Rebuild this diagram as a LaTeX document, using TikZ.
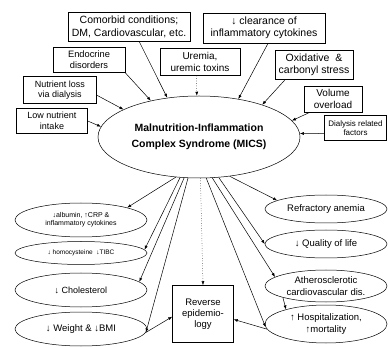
\documentclass[tikz,border=0pt]{standalone}
\usepackage{fontspec}
\setmainfont{Liberation Sans}
\usepackage{tikz}
\usetikzlibrary{arrows.meta,shapes.geometric}
\newcommand{\fsz}[1]{\fontsize{#1}{1.18\dimexpr#1pt\relax}\selectfont}

\begin{document}
\begin{tikzpicture}[x=1pt,y=-1pt,line width=0.5pt,
    causebox/.style={draw,align=center,inner sep=1pt},
    oval/.style={draw,ellipse,align=center,inner sep=0pt},
    arr/.style={-{Latex[length=4pt,width=3pt]}}]
  \useasboundingbox (0,0) rectangle (388,347);
  % causes
  \node[causebox,minimum width=122,minimum height=29,font=\fsz{10.5}] (comorbid) at (129,27) {Comorbid conditions;\\DM, Cardiovascular, etc.};
  \node[causebox,minimum width=122,minimum height=30,font=\fsz{10.5}] (clearance) at (264,28) {↓ clearance of\\inflammatory cytokines};
  \node[causebox,minimum width=72,minimum height=25,font=\fsz{9.3}] (endocrine) at (89,60) {Endocrine\\disorders};
  \node[causebox,minimum width=80,minimum height=27,font=\fsz{10}] (uremia) at (200,62) {Uremia,\\uremic toxins};
  \node[causebox,minimum width=78,minimum height=29,font=\fsz{10.5}] (oxid) at (314,65) {Oxidative \ \&\\carbonyl stress};
  \node[causebox,minimum width=73,minimum height=27,font=\fsz{9}] (nutloss) at (60,90) {Nutrient loss\\via dialysis};
  \node[causebox,minimum width=58,minimum height=26,font=\fsz{10}] (volume) at (333,99) {Volume\\overload};
  \node[causebox,minimum width=71,minimum height=25,font=\fsz{9}] (lowint) at (52,121) {Low nutrient\\intake};
  \node[causebox,minimum width=62,minimum height=25,font=\fsz{8}] (dialysis) at (355.5,128) {Dialysis related\\factors};
  % syndrome
  \node[oval,minimum width=202,minimum height=82,font=\bfseries\fontsize{10.5}{16}\selectfont] (mics) at (199,137) {Malnutrition-Inflammation\\Complex Syndrome (MICS)};
  % consequences
  \node[oval,minimum width=132,minimum height=34,font=\fsz{7}] (albumin) at (81,220) {↓albumin, ↑CRP \&\\inflammatory cytokines};
  \node[oval,minimum width=132,minimum height=23,font=\fsz{6.5}] (homocys) at (81,253) {↓ homocysteine \ ↓TIBC};
  \node[oval,minimum width=132,minimum height=34,font=\fsz{9}] (chol) at (81,290) {↓ Cholesterol};
  \node[oval,minimum width=132,minimum height=34,font=\fsz{9.5}] (weight) at (81,329) {↓ Weight \& ↓BMI};
  \node[causebox,minimum width=61,minimum height=57,font=\fsz{9.5}] (rev) at (203,314) {Reverse\\epidemio-\\logy};
  \node[oval,minimum width=122,minimum height=28,font=\fsz{9.5}] (anemia) at (326,209) {Refractory anemia};
  \node[oval,minimum width=122,minimum height=28,font=\fsz{9.5}] (qol) at (326,244) {↓ Quality of life};
  \node[oval,minimum width=122,minimum height=32,font=\fsz{9.5}] (athero) at (326,286) {Atherosclerotic\\cardiovascular dis.};
  \node[oval,minimum width=122,minimum height=38,font=\fsz{9.5}] (hosp) at (326,324) {↑ Hospitalization,\\↑mortality};
  % into MICS
  \draw[arr] (lowint.east) -- (mics.174);
  \draw[arr] (nutloss.-8) -- (mics.160);
  \draw[arr] (endocrine.south east) -- (mics.143);
  \draw[arr] (comorbid.-55) -- (mics.129);
  \draw[arr,dotted] (uremia.-105) -- (mics.93);
  \draw[arr] (clearance.-75) -- (mics.44);
  \draw[arr] (oxid.-153) -- (mics.27);
  \draw[arr] (volume.-150) -- (mics.10);
  \draw[arr] (dialysis.190) -- (mics.2);
  % out of MICS
  \draw[arr] (mics.-120) -- (albumin.15);
  \draw[arr] (mics.-115) -- (homocys.3);
  \draw[arr] (mics.-110) -- (chol.8);
  \draw[arr] (mics.-105) -- (weight.-3);
  \draw[arr,dotted] (mics.-88) -- (rev.north);
  \draw[arr] (mics.-80) -- (hosp.183);
  \draw[arr] (mics.-72) -- (athero.170);
  \draw[arr] (mics.-64) -- (qol.west);
  \draw[arr] (mics.-52) -- (anemia.170);
  \draw[arr] (weight.-3) -- (rev.185);
  \draw[arr] (hosp.185) -- (rev.-10);
  \draw[arr] (athero.195) -- (hosp.160);
\end{tikzpicture}
\end{document}
